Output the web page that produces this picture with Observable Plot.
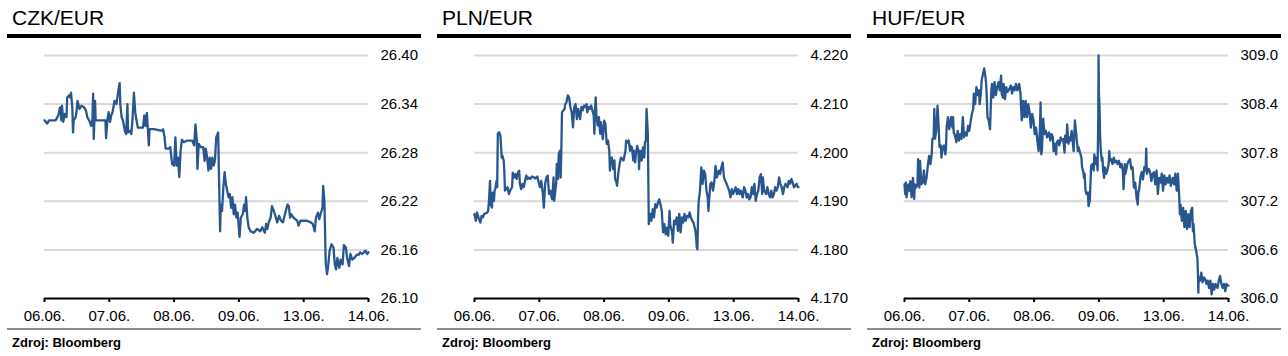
<!DOCTYPE html>
<html><head><meta charset="utf-8">
<script src="https://cdn.jsdelivr.net/npm/d3@7"></script>
<script src="https://cdn.jsdelivr.net/npm/@observablehq/plot@0.6"></script>
<style>
body{margin:0;background:#fff;font-family:"Liberation Sans",Arial,sans-serif;}
#wrap{position:relative;width:1288px;height:356px;overflow:hidden;}
.panel{position:absolute;top:0;width:430px;height:356px;}
.title{position:absolute;left:12px;top:6px;font-size:21px;line-height:24px;color:#000;white-space:nowrap;}
.rule{position:absolute;left:7px;width:414px;top:34px;height:4px;background:#000;}
.chart{position:absolute;left:0;top:40px;}
.foot{position:absolute;left:7px;width:414px;top:328px;height:2px;background:#8c8c8c;}
.src{position:absolute;left:12px;top:335px;font-size:13px;line-height:15px;font-weight:bold;color:#000;white-space:nowrap;}
</style></head>
<body><div id="wrap"></div>
<script>
const titles = ["CZK/EUR", "PLN/EUR", "HUF/EUR"];
const sourceText = "Zdroj: Bloomberg";
const dateLabels = ["06.06.", "07.06.", "08.06.", "09.06.", "13.06.", "14.06."];
const dayIndex = [0, 1, 2, 3, 4, 5];
const czkTicks = [26.10, 26.16, 26.22, 26.28, 26.34, 26.40];
const plnTicks = [4.170, 4.180, 4.190, 4.200, 4.210, 4.220];
const hufTicks = [306.0, 306.6, 307.2, 307.8, 308.4, 309.0];

// [day position, rate]
const czkSeries = [
[0,26.320],[0.04,26.316],[0.07,26.320],[0.17,26.320],[0.20,26.324],[0.22,26.328],[0.24,26.336],[0.26,26.320],[0.27,26.338],[0.29,26.318],
[0.31,26.328],[0.34,26.324],[0.35,26.348],[0.38,26.351],[0.40,26.348],[0.41,26.354],[0.43,26.334],[0.44,26.305],[0.45,26.320],[0.48,26.324],
[0.49,26.328],[0.51,26.344],[0.54,26.334],[0.57,26.338],[0.61,26.336],[0.64,26.332],[0.66,26.324],[0.70,26.318],[0.72,26.313],[0.74,26.322],
[0.75,26.353],[0.76,26.297],[0.78,26.344],[0.79,26.320],[0.86,26.320],[0.94,26.320],[0.95,26.298],[0.97,26.320],[0.99,26.330],[1.01,26.318],
[1.03,26.326],[1.05,26.330],[1.08,26.344],[1.11,26.340],[1.14,26.357],[1.16,26.366],[1.17,26.340],[1.19,26.324],[1.21,26.320],[1.24,26.307],
[1.26,26.303],[1.28,26.340],[1.29,26.305],[1.32,26.307],[1.34,26.303],[1.36,26.324],[1.38,26.354],[1.40,26.330],[1.42,26.320],[1.44,26.311],
[1.48,26.311],[1.52,26.311],[1.54,26.326],[1.56,26.313],[1.58,26.329],[1.61,26.289],[1.62,26.309],[1.69,26.309],[1.76,26.308],[1.82,26.307],
[1.83,26.309],[1.85,26.301],[1.87,26.285],[1.92,26.285],[1.94,26.287],[1.97,26.266],[2.00,26.264],[2.02,26.299],[2.04,26.264],[2.06,26.274],
[2.08,26.250],[2.10,26.282],[2.12,26.296],[2.15,26.293],[2.20,26.295],[2.28,26.295],[2.31,26.289],[2.33,26.315],[2.35,26.296],[2.36,26.260],
[2.38,26.291],[2.41,26.287],[2.45,26.287],[2.47,26.270],[2.49,26.285],[2.51,26.274],[2.53,26.258],[2.55,26.274],[2.57,26.260],[2.59,26.274],
[2.61,26.264],[2.63,26.270],[2.65,26.299],[2.68,26.305],[2.69,26.262],[2.71,26.183],[2.72,26.216],[2.74,26.208],[2.76,26.237],[2.78,26.256],
[2.80,26.241],[2.82,26.233],[2.84,26.225],[2.86,26.229],[2.88,26.212],[2.90,26.225],[2.92,26.204],[2.94,26.216],[2.96,26.200],[2.98,26.206],
[3.01,26.176],[3.03,26.200],[3.06,26.204],[3.08,26.216],[3.10,26.208],[3.11,26.225],[3.13,26.200],[3.15,26.188],[3.18,26.183],[3.23,26.181],
[3.28,26.186],[3.33,26.183],[3.36,26.188],[3.40,26.181],[3.42,26.192],[3.44,26.186],[3.46,26.194],[3.49,26.200],[3.51,26.214],[3.54,26.208],
[3.57,26.200],[3.59,26.194],[3.62,26.202],[3.65,26.196],[3.68,26.194],[3.71,26.204],[3.75,26.216],[3.77,26.214],[3.79,26.200],[3.81,26.204],
[3.84,26.200],[3.87,26.198],[3.90,26.196],[3.92,26.190],[3.95,26.196],[4.00,26.196],[4.05,26.196],[4.11,26.194],[4.14,26.192],[4.17,26.183],
[4.19,26.200],[4.22,26.206],[4.24,26.198],[4.26,26.204],[4.29,26.212],[4.30,26.239],[4.32,26.219],[4.34,26.144],[4.36,26.130],[4.38,26.142],
[4.40,26.159],[4.43,26.167],[4.46,26.163],[4.48,26.142],[4.50,26.136],[4.52,26.150],[4.55,26.138],[4.57,26.148],[4.60,26.142],[4.62,26.166],
[4.65,26.163],[4.67,26.150],[4.70,26.140],[4.72,26.155],[4.75,26.148],[4.78,26.150],[4.82,26.154],[4.85,26.154],[4.87,26.157],[4.90,26.155],
[4.93,26.157],[4.95,26.159],[4.98,26.155],[5.00,26.157]
];

const plnSeries = [
[0.00,4.1874],[0.02,4.1860],[0.04,4.1877],[0.07,4.1863],[0.09,4.1856],[0.11,4.1870],[0.13,4.1867],[0.15,4.1874],[0.19,4.1876],[0.21,4.1880],
[0.22,4.1894],[0.24,4.1942],[0.25,4.1894],[0.27,4.1887],[0.28,4.1918],[0.30,4.1901],[0.31,4.1922],[0.32,4.1925],[0.34,4.1942],[0.35,4.1929],
[0.36,4.2039],[0.38,4.2042],[0.40,4.2035],[0.42,4.1990],[0.43,4.1994],[0.45,4.1984],[0.46,4.1963],[0.47,4.1922],[0.49,4.1925],[0.51,4.1929],
[0.53,4.1915],[0.56,4.1925],[0.58,4.1929],[0.59,4.1959],[0.61,4.1949],[0.63,4.1956],[0.65,4.1946],[0.67,4.1959],[0.69,4.1963],[0.70,4.1936],
[0.72,4.1925],[0.74,4.1936],[0.76,4.1929],[0.78,4.1942],[0.80,4.1953],[0.82,4.1946],[0.84,4.1949],[0.86,4.1946],[0.89,4.1951],[0.92,4.1949],
[0.94,4.1947],[0.97,4.1951],[0.99,4.1939],[1.01,4.1929],[1.03,4.1942],[1.04,4.1932],[1.06,4.1908],[1.07,4.1887],[1.09,4.1936],[1.11,4.1949],
[1.13,4.1953],[1.15,4.1915],[1.17,4.1922],[1.19,4.1908],[1.20,4.1904],[1.22,4.1949],[1.23,4.1901],[1.26,4.1936],[1.27,4.1977],[1.29,4.1946],
[1.30,4.1997],[1.32,4.2004],[1.33,4.1949],[1.34,4.2004],[1.35,4.2083],[1.37,4.2087],[1.39,4.2090],[1.40,4.2100],[1.42,4.2104],[1.44,4.2118],
[1.46,4.2114],[1.48,4.2094],[1.50,4.2083],[1.52,4.2052],[1.54,4.2094],[1.56,4.2100],[1.58,4.2069],[1.60,4.2090],[1.63,4.2069],[1.65,4.2094],
[1.67,4.2087],[1.69,4.2097],[1.71,4.2094],[1.73,4.2100],[1.74,4.2083],[1.76,4.2094],[1.78,4.2090],[1.80,4.2097],[1.82,4.2087],[1.84,4.2076],
[1.85,4.2039],[1.86,4.2087],[1.87,4.2114],[1.88,4.2080],[1.90,4.2056],[1.92,4.2073],[1.94,4.2039],[1.95,4.2063],[1.98,4.2028],[2.00,4.2066],
[2.02,4.2059],[2.04,4.2018],[2.06,4.2025],[2.08,4.2004],[2.09,4.1963],[2.10,4.1984],[2.12,4.1990],[2.14,4.1966],[2.16,4.1984],[2.17,4.1946],
[2.19,4.1939],[2.20,4.1932],[2.22,4.1959],[2.24,4.1977],[2.26,4.1990],[2.28,4.1987],[2.30,4.1984],[2.33,4.2004],[2.34,4.2025],[2.36,4.2021],
[2.38,4.2025],[2.40,4.2004],[2.41,4.2014],[2.43,4.2011],[2.45,4.1984],[2.46,4.2004],[2.48,4.1980],[2.49,4.1997],[2.51,4.2014],[2.53,4.2004],
[2.54,4.1966],[2.55,4.1997],[2.56,4.2004],[2.58,4.1984],[2.60,4.2011],[2.62,4.1990],[2.63,4.2021],[2.645,4.2025],[2.655,4.2090],[2.675,4.2039],
[2.69,4.1853],[2.71,4.1874],[2.73,4.1860],[2.75,4.1884],[2.77,4.1867],[2.79,4.1894],[2.81,4.1887],[2.83,4.1897],[2.85,4.1904],[2.87,4.1894],
[2.89,4.1880],[2.91,4.1836],[2.93,4.1853],[2.95,4.1832],[2.97,4.1846],[2.99,4.1829],[3.01,4.1880],[3.02,4.1853],[3.05,4.1836],[3.06,4.1815],
[3.08,4.1860],[3.10,4.1853],[3.12,4.1867],[3.14,4.1839],[3.16,4.1874],[3.18,4.1836],[3.20,4.1867],[3.22,4.1856],[3.24,4.1874],[3.26,4.1860],
[3.28,4.1870],[3.30,4.1867],[3.32,4.1877],[3.34,4.1867],[3.36,4.1860],[3.38,4.1856],[3.41,4.1839],[3.42,4.1826],[3.43,4.1805],[3.44,4.1801],
[3.45,4.1867],[3.46,4.1901],[3.48,4.1922],[3.50,4.1970],[3.52,4.1936],[3.54,4.1963],[3.56,4.1956],[3.58,4.1922],[3.60,4.1908],[3.61,4.1880],
[3.62,4.1901],[3.64,4.1936],[3.66,4.1939],[3.68,4.1922],[3.70,4.1939],[3.72,4.1973],[3.74,4.1949],[3.77,4.1963],[3.79,4.1956],[3.81,4.1970],
[3.83,4.1980],[3.85,4.1949],[3.87,4.1942],[3.89,4.1936],[3.91,4.1929],[3.93,4.1922],[3.95,4.1908],[3.97,4.1925],[3.99,4.1915],[4.01,4.1922],
[4.03,4.1929],[4.05,4.1915],[4.07,4.1925],[4.09,4.1915],[4.11,4.1922],[4.14,4.1908],[4.16,4.1929],[4.18,4.1922],[4.20,4.1908],[4.22,4.1915],
[4.24,4.1904],[4.26,4.1908],[4.28,4.1929],[4.30,4.1915],[4.32,4.1936],[4.34,4.1901],[4.36,4.1915],[4.38,4.1922],[4.40,4.1949],[4.42,4.1956],
[4.44,4.1915],[4.45,4.1949],[4.47,4.1922],[4.50,4.1915],[4.52,4.1929],[4.54,4.1915],[4.56,4.1908],[4.58,4.1922],[4.60,4.1908],[4.62,4.1915],
[4.64,4.1929],[4.66,4.1922],[4.68,4.1929],[4.70,4.1949],[4.72,4.1936],[4.74,4.1929],[4.76,4.1915],[4.78,4.1929],[4.80,4.1936],[4.83,4.1929],
[4.85,4.1942],[4.87,4.1936],[4.89,4.1946],[4.91,4.1939],[4.93,4.1929],[4.95,4.1932],[4.97,4.1936],[4.99,4.1929],[5.00,4.1929]
];

const hufSeries = [
[0.00,307.41],[0.01,307.29],[0.02,307.43],[0.03,307.25],[0.06,307.41],[0.08,307.33],[0.09,307.45],[0.11,307.25],[0.13,307.49],[0.15,307.23],
[0.16,307.41],[0.18,307.37],[0.20,307.41],[0.21,307.72],[0.23,307.37],[0.24,307.70],[0.26,307.41],[0.28,307.43],[0.30,307.58],[0.31,307.45],
[0.32,307.41],[0.34,307.49],[0.36,307.64],[0.38,307.76],[0.40,307.66],[0.42,307.78],[0.43,307.97],[0.45,307.99],[0.46,308.34],[0.47,307.97],
[0.49,308.07],[0.51,308.38],[0.53,308.07],[0.54,307.87],[0.56,307.89],[0.57,307.74],[0.59,307.87],[0.61,307.89],[0.63,307.78],[0.64,307.85],
[0.65,308.11],[0.67,308.24],[0.69,308.09],[0.72,308.24],[0.74,308.11],[0.75,308.24],[0.76,308.05],[0.78,308.01],[0.80,307.93],[0.82,308.07],
[0.84,307.95],[0.86,308.03],[0.88,307.97],[0.90,308.24],[0.92,307.99],[0.94,308.05],[0.96,308.01],[0.98,308.13],[1.00,308.07],[1.02,308.18],
[1.04,308.28],[1.06,308.34],[1.07,308.53],[1.09,308.40],[1.11,308.61],[1.13,308.51],[1.15,308.57],[1.16,308.40],[1.18,308.55],[1.19,308.69],
[1.21,308.77],[1.23,308.84],[1.25,308.73],[1.26,308.65],[1.27,308.48],[1.28,308.24],[1.30,308.20],[1.32,308.09],[1.34,308.57],[1.35,308.65],
[1.37,308.48],[1.39,308.67],[1.41,308.51],[1.43,308.61],[1.45,308.67],[1.47,308.57],[1.49,308.75],[1.50,308.53],[1.52,308.48],[1.53,308.65],
[1.55,308.46],[1.57,308.61],[1.59,308.55],[1.62,308.59],[1.64,308.63],[1.66,308.53],[1.68,308.61],[1.70,308.57],[1.72,308.65],[1.74,308.57],
[1.76,308.61],[1.77,308.65],[1.79,308.53],[1.80,308.34],[1.81,308.20],[1.83,308.44],[1.85,308.24],[1.87,308.44],[1.89,308.24],[1.91,308.40],
[1.93,308.30],[1.95,308.11],[1.97,308.28],[1.99,308.20],[2.01,308.03],[2.03,308.11],[2.05,307.95],[2.07,307.82],[2.09,308.09],[2.10,308.42],
[2.11,307.78],[2.12,307.82],[2.14,308.22],[2.16,308.03],[2.18,308.07],[2.20,307.99],[2.23,308.05],[2.25,307.95],[2.27,308.03],[2.29,307.99],
[2.30,307.82],[2.32,307.91],[2.34,307.78],[2.35,307.93],[2.37,307.95],[2.39,307.89],[2.41,307.99],[2.43,307.95],[2.45,307.97],[2.47,307.80],
[2.48,308.01],[2.50,307.93],[2.51,308.15],[2.53,307.91],[2.55,307.99],[2.56,307.95],[2.58,308.07],[2.59,307.99],[2.61,307.82],[2.63,308.20],
[2.645,308.07],[2.655,307.99],[2.675,307.82],[2.685,307.87],[2.71,307.80],[2.73,307.74],[2.74,307.62],[2.76,307.56],[2.77,307.49],[2.78,307.54],
[2.79,307.37],[2.80,307.31],[2.81,307.29],[2.83,307.31],[2.84,307.14],[2.86,307.21],[2.88,307.64],[2.90,307.66],[2.92,307.58],[2.93,307.78],
[2.95,307.66],[2.96,307.74],[2.97,307.70],[2.98,307.58],[2.99,308.24],[2.995,309.00],[3.00,308.53],[3.01,308.36],[3.02,307.97],[3.03,307.82],
[3.045,307.70],[3.055,307.74],[3.065,307.58],[3.08,307.49],[3.09,307.62],[3.11,307.54],[3.13,307.58],[3.15,307.66],[3.16,307.82],[3.17,307.70],
[3.19,307.72],[3.21,307.66],[3.23,307.74],[3.25,307.68],[3.27,307.70],[3.29,307.66],[3.31,307.70],[3.33,307.62],[3.35,307.66],[3.37,307.58],
[3.38,307.35],[3.40,307.66],[3.41,307.54],[3.44,307.66],[3.46,307.70],[3.48,307.72],[3.50,307.60],[3.52,307.62],[3.54,307.37],[3.56,307.43],
[3.58,307.25],[3.60,307.16],[3.61,307.33],[3.62,307.33],[3.64,307.49],[3.66,307.56],[3.68,307.47],[3.70,307.62],[3.72,307.58],[3.73,307.85],
[3.74,307.54],[3.77,307.60],[3.79,307.56],[3.81,307.45],[3.83,307.54],[3.85,307.56],[3.87,307.41],[3.89,307.58],[3.91,307.29],[3.93,307.49],
[3.95,307.43],[3.97,307.54],[3.99,307.33],[4.01,307.52],[4.03,307.41],[4.05,307.49],[4.07,307.43],[4.09,307.52],[4.11,307.39],[4.14,307.49],
[4.16,307.41],[4.18,307.54],[4.20,307.33],[4.22,307.54],[4.24,307.25],[4.25,307.04],[4.26,307.16],[4.28,306.96],[4.30,307.12],[4.32,306.88],
[4.34,307.08],[4.36,306.86],[4.38,307.04],[4.40,306.88],[4.42,307.08],[4.44,307.12],[4.45,306.83],[4.46,306.92],[4.48,306.67],[4.50,306.59],
[4.52,306.50],[4.53,306.26],[4.535,306.07],[4.54,306.26],[4.56,306.22],[4.58,306.32],[4.60,306.20],[4.62,306.26],[4.64,306.24],[4.66,306.18],
[4.68,306.22],[4.70,306.13],[4.72,306.22],[4.74,306.05],[4.76,306.18],[4.78,306.11],[4.80,306.18],[4.83,306.13],[4.85,306.22],[4.87,306.28],
[4.89,306.18],[4.91,306.13],[4.93,306.18],[4.95,306.09],[4.97,306.18],[4.98,306.16],[5.00,306.16]
];

const panels = [
  {title: titles[0], series: czkSeries, ticks: czkTicks, digits: 2},
  {title: titles[1], series: plnSeries, ticks: plnTicks, digits: 3},
  {title: titles[2], series: hufSeries, ticks: hufTicks, digits: 1}
];

const FONT = '"Liberation Sans", Arial, Helvetica, sans-serif';
const wrap = document.getElementById("wrap");

panels.forEach((p, k) => {
  const div = document.createElement("div");
  div.className = "panel";
  div.style.left = (k * 430) + "px";
  const t = document.createElement("div"); t.className = "title"; t.textContent = p.title; div.appendChild(t);
  const r = document.createElement("div"); r.className = "rule"; div.appendChild(r);
  const data = p.series.map(([d, v]) => ({d, v}));
  const lo = p.ticks[0], hi = p.ticks[p.ticks.length - 1];
  const chart = Plot.plot({
    width: 430, height: 290,
    marginLeft: 44, marginRight: 62, marginTop: 15, marginBottom: 32,
    style: {fontFamily: FONT, fontSize: "15px", color: "#000", background: "transparent", overflow: "visible"},
    x: {domain: [0, 5]},
    y: {domain: [lo, hi]},
    marks: [
      Plot.gridY(p.ticks.slice(1), {stroke: "#d9d9d9", strokeOpacity: 1, strokeWidth: 2}),
      Plot.ruleY([lo], {stroke: "#000", strokeWidth: 2}),
      Plot.axisX(dayIndex, {tickFormat: i => dateLabels[i], tickSize: 4, tickPadding: 8, stroke: "#000", strokeWidth: 2, label: null, fill: "#000"}),
      Plot.axisY(p.ticks, {anchor: "right", tickSize: 0, tickPadding: 12, tickFormat: v => v.toFixed(p.digits), label: null, fill: "#000"}),
      Plot.line(data, {x: "d", y: "v", stroke: "#2a5690", strokeWidth: 2.3})
    ]
  });
  const c = document.createElement("div"); c.className = "chart"; c.appendChild(chart); div.appendChild(c);
  const f = document.createElement("div"); f.className = "foot"; div.appendChild(f);
  const s = document.createElement("div"); s.className = "src"; s.textContent = sourceText; div.appendChild(s);
  wrap.appendChild(div);
});
</script></body></html>
